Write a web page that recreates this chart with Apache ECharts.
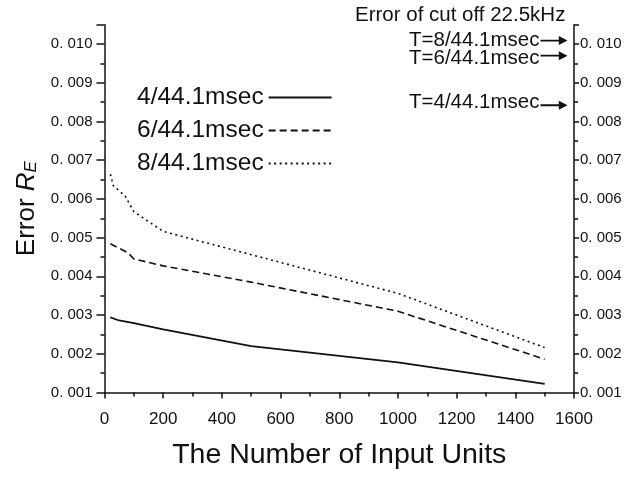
<!DOCTYPE html>
<html><head><meta charset="utf-8">
<script src="https://cdn.jsdelivr.net/npm/echarts@6/dist/echarts.min.js"></script>
<style>html,body{margin:0;padding:0;background:#fff}#c{width:630px;height:477px}</style>
</head><body><div id="c"></div>
<script>
// Data
var xTicks = [0, 200, 400, 600, 800, 1000, 1200, 1400, 1600];
var yTicks = [0.001, 0.002, 0.003, 0.004, 0.005, 0.006, 0.007, 0.008, 0.009, 0.010];
var seriesNames = ['4/44.1msec', '6/44.1msec', '8/44.1msec'];
var units4 = [20, 50, 100, 200, 500, 1000, 1500];
var err4 = [0.00294, 0.00286, 0.00279, 0.00263, 0.00220, 0.00178, 0.00122];
var units6 = [20, 80, 100, 200, 500, 1000, 1500];
var err6 = [0.00484, 0.00461, 0.00445, 0.00427, 0.00385, 0.00310, 0.00186];
var units8 = [20, 30, 70, 100, 200, 500, 1000, 1500];
var err8 = [0.00664, 0.00634, 0.00608, 0.00567, 0.00516, 0.00456, 0.00356, 0.00216];
var cutoffLabels = ['T=8/44.1msec', 'T=6/44.1msec', 'T=4/44.1msec'];
var cutoffErr = [0.01009, 0.00970, 0.00842];

function pairs(xs, ys) { return xs.map(function (x, i) { return [x, ys[i]]; }); }
function yFmt(v) {
  var k = Math.round(v * 1000);
  if (Math.abs(v * 1000 - k) > 1e-6) return '';
  return (k / 1000).toFixed(3).replace('.', '. ');
}
var FONT = '"Liberation Sans", Arial, sans-serif';
var INK = '#111';
var arrowPath = 'path://M0,4 L19,4 L19,0 L28,5 L19,10 L19,6 L0,6 Z';
var labelShift = [[0, 0], [0, 3], [0, -3]];

var chart = echarts.init(document.getElementById('c'));
var yCommon = {
  type: 'value', min: 0.001, max: 0.0105, interval: 0.001,
  axisLine: { show: true, lineStyle: { color: INK, width: 1.5 } },
  axisTick: { show: true, inside: false, length: 8, lineStyle: { color: INK, width: 1.5 } },
  minorTick: { show: true, splitNumber: 2, length: 4, lineStyle: { color: INK, width: 1.5 } },
  splitLine: { show: false },
  axisLabel: { formatter: yFmt, fontFamily: FONT, fontSize: 15, color: INK, showMaxLabel: false }
};
chart.setOption({
  animation: false,
  backgroundColor: '#fff',
  textStyle: { fontFamily: FONT, color: INK },
  title: {
    text: 'Error of cut off 22.5kHz', left: 350, top: 0,
    textStyle: { fontFamily: FONT, fontSize: 20.5, fontWeight: 'normal', color: INK }
  },
  grid: { left: 104.5, right: 56, top: 24.7, bottom: 84.5 },
  legend: {
    orient: 'vertical', left: 132, top: 80, align: 'right',
    itemWidth: 63, itemHeight: 12, itemGap: 8,
    data: seriesNames,
    itemStyle: { opacity: 0 },
    textStyle: { fontFamily: FONT, fontSize: 24.5, color: INK, padding: [0, 0, 0, 0] }
  },
  xAxis: {
    type: 'value', min: 0, max: 1600, interval: 200,
    name: 'The Number of Input Units', nameLocation: 'middle', nameGap: 48,
    nameTextStyle: { fontFamily: FONT, fontSize: 28.5, color: INK },
    axisLine: { show: true, onZero: false, lineStyle: { color: INK, width: 1.5 } },
    axisTick: { show: true, length: 6, lineStyle: { color: INK, width: 1.5 } },
    minorTick: { show: true, splitNumber: 2, length: 4, lineStyle: { color: INK, width: 1.5 } },
    splitLine: { show: false },
    axisLabel: { fontFamily: FONT, fontSize: 17, color: INK, margin: 18, showMaxLabel: true,
      formatter: function (v) { return String(v); } }
  },
  yAxis: [
    Object.assign({}, yCommon, {
      position: 'left',
      name: 'Error {it|R}{sub|E}', nameLocation: 'middle', nameGap: 62,
      nameTextStyle: {
        fontFamily: FONT, fontSize: 26, color: INK,
        rich: {
          it: { fontFamily: FONT, fontSize: 26, fontStyle: 'italic', color: INK },
          sub: { fontFamily: FONT, fontSize: 17, fontStyle: 'italic', color: INK, padding: [10, 0, 0, 0] }
        }
      },
      axisLabel: Object.assign({}, yCommon.axisLabel, { margin: 12 })
    }),
    Object.assign({}, yCommon, {
      position: 'right',
      axisTick: Object.assign({}, yCommon.axisTick, { length: 5 }),
      axisLabel: Object.assign({}, yCommon.axisLabel, { margin: 6 })
    })
  ],
  series: [
    { name: seriesNames[0], type: 'line', data: pairs(units4, err4), symbol: 'none',
      lineStyle: { color: INK, width: 1.8, type: 'solid' }, itemStyle: { color: INK } },
    { name: seriesNames[1], type: 'line', data: pairs(units6, err6), symbol: 'none',
      lineStyle: { color: INK, width: 1.6, type: [7, 4] }, itemStyle: { color: INK } },
    { name: seriesNames[2], type: 'line', data: pairs(units8, err8), symbol: 'none',
      lineStyle: { color: INK, width: 1.6, type: [2, 3.5] }, itemStyle: { color: INK } },
    { name: 'cutoff', type: 'scatter', yAxisIndex: 1,
      data: cutoffErr.map(function (v, i) {
        return { value: [1600, v, cutoffLabels[i]], label: { offset: labelShift[i] } };
      }),
      symbol: arrowPath, symbolSize: [27, 9], symbolOffset: [-20, 0], symbolKeepAspect: false,
      itemStyle: { color: INK, opacity: 1 },
      label: { show: true, position: 'left', distance: 1, formatter: function (p) { return p.data.value[2]; },
        fontFamily: FONT, fontSize: 20.5, color: INK },
      silent: true }
  ]
});
</script></body></html>
